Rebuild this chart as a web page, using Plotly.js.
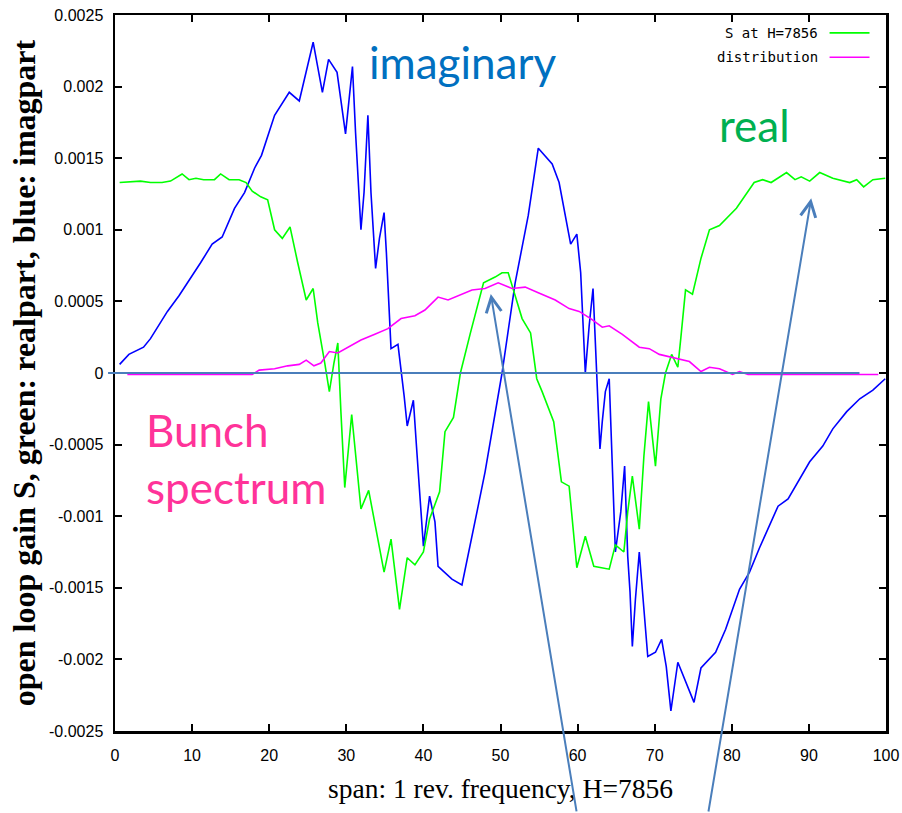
<!DOCTYPE html>
<html>
<head>
<meta charset="utf-8">
<script src="https://cdn.plot.ly/plotly-3.0.1.min.js"></script>
<style>html,body{margin:0;padding:0;background:#fff;}#chart{width:902px;height:813px;}</style>
</head>
<body>
<div id="chart"></div>
<script>
// ---- data ----
const imagX = [0.6,1.8,3.7,4.6,6.8,8.3,11.1,12.6,13.9,15.5,16.8,18.1,19.0,20.7,22.6,23.9,25.7,26.9,27.7,28.8,29.9,30.8,31.2,31.9,32.3,32.8,33.2,33.8,34.3,34.9,35.2,35.4,35.8,36.7,37.1,37.5,37.9,38.7,39.1,39.5,40.0,40.8,41.5,41.9,43.7,45.0,46.3,47.1,48.0,50.2,51.9,53.6,54.9,56.7,57.6,59.1,59.9,60.4,61.0,61.5,62.0,62.3,62.5,62.9,63.2,63.6,64.1,64.5,64.9,65.6,66.1,66.5,66.8,67.1,67.5,68.0,69.1,70.1,70.9,71.5,72.1,73.0,75.1,76.0,77.9,79.2,81.0,82.3,83.6,86.0,87.3,90.1,91.8,93.1,94.9,96.6,98.3,99.9];
const imagY = [0.00006,0.00013,0.00018,0.00024,0.00043,0.00054,0.00077,0.00090,0.00095,0.00115,0.00126,0.00143,0.00152,0.00180,0.00196,0.00190,0.00231,0.00196,0.00219,0.00210,0.00167,0.00214,0.00168,0.00100,0.00126,0.00180,0.00126,0.00073,0.00094,0.00112,0.00084,0.00063,0.00017,0.00020,0.00003,-0.00016,-0.00037,-0.00019,-0.00051,-0.00081,-0.00121,-0.00086,-0.00104,-0.00135,-0.00144,-0.00148,-0.00115,-0.00093,-0.00069,0.00000,0.00063,0.00110,0.00157,0.00146,0.00133,0.00090,0.00097,0.00070,0.00000,0.00033,0.00059,0.00024,0.00000,-0.00053,-0.00034,-0.00013,-0.00004,-0.00065,-0.00125,-0.00097,-0.00065,-0.00128,-0.00153,-0.00191,-0.00158,-0.00125,-0.00198,-0.00195,-0.00186,-0.00205,-0.00236,-0.00202,-0.00230,-0.00206,-0.00195,-0.00179,-0.00151,-0.00139,-0.00122,-0.00093,-0.00088,-0.00062,-0.00051,-0.00039,-0.00027,-0.00018,-0.00012,-0.00004];

const realX = [0.6,3.3,4.6,6.1,7.2,8.7,9.6,10.5,11.5,12.9,13.7,14.8,16.1,17.0,17.8,18.9,19.8,20.7,21.7,22.7,23.7,24.8,25.7,26.3,27.2,27.8,28.4,28.9,29.3,29.8,30.7,31.9,32.9,34.9,35.8,36.9,37.9,38.9,40.0,40.8,42.1,42.8,43.9,44.8,46.1,47.1,47.8,49.3,50.2,51.0,51.6,52.8,53.9,54.7,55.4,56.9,57.9,58.9,59.9,61.0,62.1,64.1,64.9,66.0,66.5,67.1,68.0,68.6,69.2,70.1,70.8,71.4,72.2,73.0,73.4,74.0,74.9,76.0,77.1,78.4,80.6,82.9,84.0,85.1,87.1,88.2,89.0,90.1,91.4,93.1,95.3,96.2,97.1,98.3,99.9];
const realY = [0.00133,0.00134,0.00133,0.00133,0.00134,0.00139,0.00135,0.00136,0.00135,0.00135,0.00139,0.00135,0.00135,0.00133,0.00127,0.00123,0.00121,0.00100,0.00094,0.00102,0.00077,0.00051,0.00059,0.00035,0.00007,-0.00013,0.00007,0.00021,-0.00027,-0.00080,-0.00029,-0.00095,-0.00082,-0.00139,-0.00116,-0.00165,-0.00129,-0.00134,-0.00125,-0.00102,-0.00083,-0.00041,-0.00031,0.00000,0.00028,0.00049,0.00063,0.00067,0.00070,0.00070,0.00059,0.00038,0.00028,-0.00004,-0.00013,-0.00034,-0.00076,-0.00079,-0.00136,-0.00114,-0.00135,-0.00137,-0.00120,-0.00125,-0.00097,-0.00072,-0.00109,-0.00058,-0.00020,-0.00065,-0.00018,0.00000,0.00013,0.00004,0.00025,0.00058,0.00055,0.00080,0.00100,0.00103,0.00115,0.00133,0.00135,0.00133,0.00140,0.00135,0.00137,0.00134,0.00140,0.00136,0.00133,0.00135,0.00130,0.00135,0.00136];

const distX = [1.6,17.8,18.7,20.7,22.4,23.9,24.8,25.8,26.7,27.8,28.9,30.2,31.9,33.7,35.4,37.1,38.9,40.2,41.9,43.2,44.5,46.3,48.0,49.7,51.5,53.2,54.9,57.1,58.9,60.2,61.7,63.2,64.1,65.8,68.0,69.3,70.6,73.2,74.5,76.0,77.1,78.4,80.1,81.0,82.1,99.0];
const distY = [-0.00001,-0.00001,0.00002,0.00003,0.00005,0.00006,0.00009,0.00005,0.00007,0.00015,0.00014,0.00018,0.00023,0.00027,0.00031,0.00038,0.00040,0.00044,0.00053,0.00051,0.00054,0.00058,0.00059,0.00063,0.00059,0.00060,0.00056,0.00051,0.00045,0.00043,0.00038,0.00032,0.00033,0.00027,0.00018,0.00017,0.00013,0.00010,0.00008,0.00001,0.00004,0.00003,-0.00001,0.00001,-0.00001,-0.00001];

const xTickVals = [0,10,20,30,40,50,60,70,80,90,100];
const yTickVals = [-0.0025,-0.002,-0.0015,-0.001,-0.0005,0,0.0005,0.001,0.0015,0.002,0.0025];
const yTickText = ["-0.0025","-0.002","-0.0015","-0.001","-0.0005","0","0.0005","0.001","0.0015","0.002","0.0025"];

const legendNames = ["S at H=7856", "distribution"];
const xTitle = "span: 1 rev. frequency, H=7856";
const yTitle = "open loop gain S, green: realpart, blue: imagpart";

// ---- styling ----
const tickFont = {family: "'Liberation Sans', Arial, sans-serif", size: 16, color: "#000"};
const serif = "'Liberation Serif', 'DejaVu Serif', serif";
const annFont = "Lato, 'Open Sans', sans-serif";
const monoFont = "'DejaVu Sans Mono', 'Liberation Mono', monospace";

const traces = [
  {x: imagX, y: imagY, type: "scatter", mode: "lines", name: "imag", showlegend: false,
   line: {color: "#0000ff", width: 1.6}},
  {x: realX, y: realY, type: "scatter", mode: "lines", name: legendNames[0], showlegend: false,
   line: {color: "#00ff00", width: 1.6}},
  {x: distX, y: distY, type: "scatter", mode: "lines", name: legendNames[1], showlegend: false,
   line: {color: "#ff00ff", width: 1.6}}
];

const layout = {
  width: 902, height: 813,
  paper_bgcolor: "#fff", plot_bgcolor: "#fff",
  margin: {l: 115, r: 15.5, t: 15, b: 82, pad: 0},
  showlegend: false,
  xaxis: {
    range: [0, 100], tickvals: xTickVals, ticks: "inside", ticklen: 7, tickwidth: 2, tickcolor: "#000",
    showline: true, linecolor: "#000", linewidth: 2.5, mirror: "ticks", showgrid: false, zeroline: false,
    tickfont: tickFont, ticklabelstandoff: 8, ticklabeloverflow: "allow",
    title: {text: xTitle, font: {family: serif, size: 27.5, color: "#000"}, standoff: 16}
  },
  yaxis: {
    range: [-0.0025, 0.0025], tickvals: yTickVals, ticktext: yTickText, ticks: "inside", ticklen: 7, tickwidth: 2, tickcolor: "#000",
    showline: true, linecolor: "#000", linewidth: 2.5, mirror: "ticks", showgrid: false, zeroline: false,
    tickfont: tickFont, ticklabelstandoff: 6, ticklabeloverflow: "allow",
    title: {text: yTitle, font: {family: serif, size: 32, color: "#000", weight: "bold"}, standoff: 4}
  },
  shapes: [
    {type: "line", xref: "paper", yref: "y", x0: -0.009, x1: 0.9656, y0: 0, y1: 0,
     line: {color: "#4a7ebb", width: 2}},
    {type: "line", xref: "paper", yref: "paper", x0: 0.9268, x1: 0.9786, y0: 0.975, y1: 0.975,
     line: {color: "#00ff00", width: 1.6}},
    {type: "line", xref: "paper", yref: "paper", x0: 0.9268, x1: 0.9786, y0: 0.941, y1: 0.941,
     line: {color: "#ff00ff", width: 1.6}}
  ],
  annotations: [
    {text: legendNames[0], xref: "paper", yref: "paper", x: 0.915, y: 0.975, xanchor: "right", yanchor: "middle",
     showarrow: false, font: {family: monoFont, size: 14, color: "#000"}},
    {text: legendNames[1], xref: "paper", yref: "paper", x: 0.915, y: 0.941, xanchor: "right", yanchor: "middle",
     showarrow: false, font: {family: monoFont, size: 14, color: "#000"}},
    {text: "imaginary", xref: "paper", yref: "paper", x: 0.451, y: 0.934, xanchor: "center", yanchor: "middle",
     showarrow: false, font: {family: annFont, size: 44, color: "#0070c0"}},
    {text: "real", xref: "paper", yref: "paper", x: 0.8296, y: 0.8464, xanchor: "center", yanchor: "middle",
     showarrow: false, font: {family: annFont, size: 44, color: "#00b050"}},
    {text: "Bunch<br>spectrum", xref: "paper", yref: "paper", x: 0.037, y: 0.381, xanchor: "left", yanchor: "middle",
     align: "left", showarrow: false, font: {family: annFont, size: 44, color: "#ff3399"}},
    {text: "", xref: "paper", yref: "paper", x: 0.4874, y: 0.6105, showarrow: true, ax: 86, ay: 519,
     arrowhead: 5, arrowsize: 1.5, arrowwidth: 2, arrowcolor: "#4a7ebb", standoff: 0, startstandoff: 0},
    {text: "", xref: "paper", yref: "paper", x: 0.903, y: 0.744, showarrow: true, ax: -103, ay: 615,
     arrowhead: 5, arrowsize: 1.5, arrowwidth: 2, arrowcolor: "#4a7ebb", standoff: 0, startstandoff: 0}
  ]
};

Plotly.newPlot("chart", traces, layout, {staticPlot: true, displayModeBar: false});
</script>
</body>
</html>
